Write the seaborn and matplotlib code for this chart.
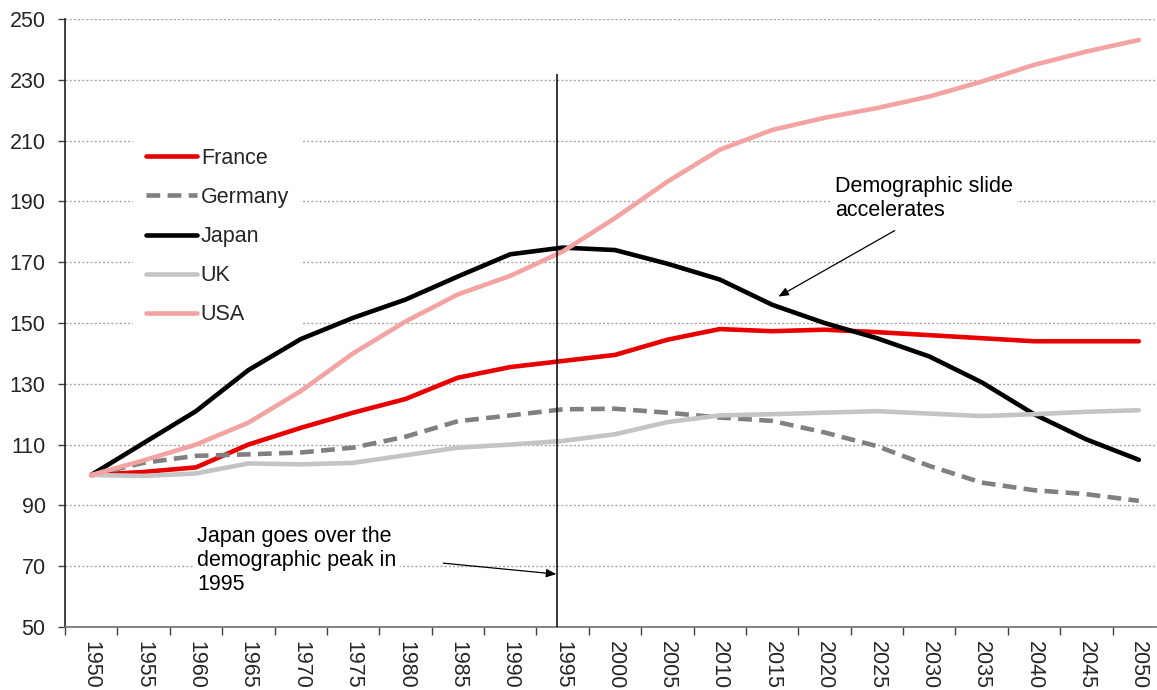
import matplotlib
matplotlib.use("Agg")
import matplotlib.pyplot as plt
import seaborn as sns
import pandas as pd

years = [1950, 1955, 1960, 1965, 1970, 1975, 1980, 1985, 1990, 1995, 2000,
         2005, 2010, 2015, 2020, 2025, 2030, 2035, 2040, 2045, 2050]
france = [100, 101, 102.5, 110, 115.5, 120.5, 125, 132, 135.5, 137.5, 139.5,
          144.5, 148, 147.3, 147.8, 147, 146, 145, 144, 144, 144]
germany = [100, 104, 106.3, 106.8, 107.4, 109, 112.6, 117.7, 119.6, 121.6, 121.8,
           120.5, 118.9, 117.8, 114, 109.5, 103, 97.5, 95, 93.7, 91.5]
japan = [100, 110.5, 121, 134.5, 144.7, 151.7, 157.7, 165.3, 172.6, 174.8, 174,
         169.5, 164.3, 156, 150, 145, 139, 130.5, 120, 111.7, 105]
uk = [100, 99.7, 100.5, 103.8, 103.5, 104, 106.5, 109, 110, 111.2, 113.4,
      117.4, 119.6, 120, 120.5, 121, 120.2, 119.4, 120, 120.8, 121.3]
usa = [100, 104.8, 110, 117.2, 127.6, 140, 150.5, 159.4, 165.5, 173.5, 184.5,
       196.5, 207, 213.5, 217.5, 220.7, 224.5, 229.4, 234.9, 239.3, 243.1]
countries = ["France", "Germany", "Japan", "UK", "USA"]
y_ticks = [50, 70, 90, 110, 130, 150, 170, 190, 210, 230, 250]
note_peak = "Japan goes over the\ndemographic peak in\n1995"
note_slide = "Demographic slide\naccelerates"

series = {"France": france, "Germany": germany, "Japan": japan, "UK": uk, "USA": usa}
df = pd.DataFrame([{"year": y, "country": c, "value": v}
                   for c in countries for y, v in zip(years, series[c])])

sns.set_style("white")
plt.rcParams["font.family"] = ["Liberation Sans", "DejaVu Sans"]
FS = 15.5

palette = {"France": "#e80000", "Germany": "#808080", "Japan": "#000000",
           "UK": "#c4c4c4", "USA": "#f4a3a3"}
dashes = {"France": "", "Germany": (3, 1.6), "Japan": "", "UK": "", "USA": ""}

fig = plt.figure(figsize=(11.57, 6.9), dpi=100)
ax = fig.add_axes([65 / 1157, 1 - 627 / 690, 1100 / 1157, (627 - 19) / 690])

sns.lineplot(data=df, x="year", y="value", hue="country", style="country",
             palette=palette, dashes=dashes, linewidth=3.3, ax=ax,
             hue_order=countries, style_order=countries)

ax.set_xlim(1947.5, 2052.5)
ax.set_ylim(50, 250)
ax.set_yticks(y_ticks)
ax.set_xticks(years)
ax.set_xticks([1947.5 + 5 * i for i in range(22)], minor=True)
ax.tick_params(axis="x", which="major", length=0, pad=10, labelsize=FS,
               labelrotation=270)
ax.tick_params(axis="x", which="minor", length=6, width=1, color="#404040",
               direction="out", bottom=True)
ax.tick_params(axis="y", which="major", length=5, width=1, color="#404040",
               direction="out", left=True, pad=9, labelsize=FS)
ax.set_xlabel("")
ax.set_ylabel("")
ax.grid(axis="y", linestyle=(0, (1.5, 1.5)), color="#a8a8a8", linewidth=1)
ax.grid(axis="x", visible=False)
ax.set_axisbelow(True)
for s in ["top", "right"]:
    ax.spines[s].set_visible(False)
ax.spines["left"].set_color("#202020")
ax.spines["left"].set_linewidth(1.2)
ax.spines["bottom"].set_color("#707070")
ax.spines["bottom"].set_linewidth(1.2)

# vertical marker near 1995
ax.vlines(1994.5, 50, 232, color="black", linewidth=1.1, zorder=3)

handles, labels = ax.get_legend_handles_labels()
leg = ax.legend(handles, labels, loc="upper left",
                bbox_to_anchor=(133 / 1157, 1 - 135 / 690),
                bbox_transform=fig.transFigure, fontsize=FS,
                handlelength=2.35, handletextpad=0.2, labelspacing=0.84,
                borderpad=0.6, borderaxespad=0, frameon=True, fancybox=False,
                facecolor="white", edgecolor="none", framealpha=1)
leg.set_zorder(1.5)
for line in leg.get_lines():
    line.set_linewidth(3.3)

ax.text(1960.1, 83.2, note_peak, fontsize=FS, va="top", ha="left",
        linespacing=1.2, color="black",
        bbox=dict(facecolor="white", edgecolor="none", pad=3), zorder=1.5)
ax.annotate("", xy=(1994.4, 67.4), xytext=(1983.6, 71.0),
            arrowprops=dict(arrowstyle="-|>,head_length=0.6,head_width=0.25",
                            color="black", linewidth=0.9, shrinkA=0, shrinkB=0),
            zorder=4)

ax.text(2021.0, 198.3, note_slide, fontsize=FS, va="top", ha="left",
        linespacing=1.2, color="black",
        bbox=dict(facecolor="white", edgecolor="none", pad=3), zorder=1.5)
ax.annotate("", xy=(2015.6, 158.7), xytext=(2026.7, 180.4),
            arrowprops=dict(arrowstyle="-|>,head_length=0.6,head_width=0.25",
                            color="black", linewidth=0.9, shrinkA=0, shrinkB=0),
            zorder=4)

fig.savefig("out.png", dpi=100)
